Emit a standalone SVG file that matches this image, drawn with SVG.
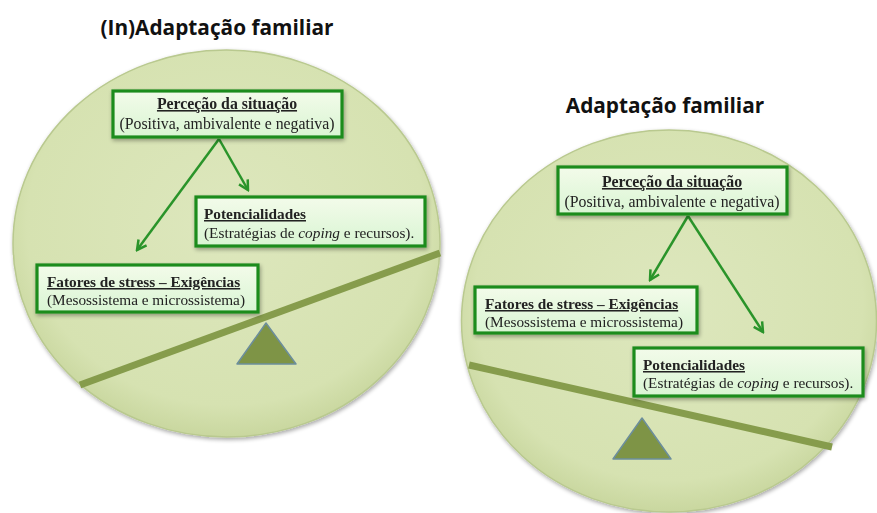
<svg xmlns="http://www.w3.org/2000/svg" width="877" height="513" viewBox="0 0 877 513">
<defs>
<radialGradient id="disc" cx="50%" cy="45%" r="55%">
<stop offset="0" stop-color="#dde7bd"/>
<stop offset="0.85" stop-color="#d6e2b1"/>
<stop offset="1" stop-color="#c9d79f"/>
</radialGradient>
<linearGradient id="boxg" x1="0" y1="0" x2="0" y2="1">
<stop offset="0" stop-color="#f3fbea"/>
<stop offset="1" stop-color="#d9f5d3"/>
</linearGradient>
<filter id="sh" x="-10%" y="-10%" width="120%" height="130%">
<feGaussianBlur in="SourceAlpha" stdDeviation="2"/>
<feOffset dx="1" dy="2" result="b"/>
<feComponentTransfer><feFuncA type="linear" slope="0.35"/></feComponentTransfer>
<feMerge><feMergeNode/><feMergeNode in="SourceGraphic"/></feMerge>
</filter>
<marker id="ah" viewBox="0 0 10 10" refX="8.5" refY="5" markerWidth="5" markerHeight="5" orient="auto" markerUnits="strokeWidth">
<path d="M1,1 L8.5,5 L1,9" fill="none" stroke="#2a942a" stroke-width="2" stroke-linejoin="miter"/>
</marker>
</defs>
<style>
.title{font-family:"Open Sans","Liberation Sans",sans-serif;font-weight:bold;font-size:20.8px;fill:#111}
.disc{fill:url(#disc);stroke:#b9c98f;stroke-width:1.5}
.box{fill:url(#boxg);stroke:#1f8c1f;stroke-width:3.2}
.t{font-family:"Liberation Serif","Times New Roman",serif;font-size:15.3px;fill:#222}
.p{font-size:15.8px}
.h{font-weight:bold;text-decoration:underline}
.beam{stroke:#869c4c;stroke-width:7;stroke-linecap:butt}
.fulcrum{fill:#7e9446;stroke:#6c8e9c;stroke-width:1.5;stroke-linejoin:round}
.arrow{stroke:#2a942a;stroke-width:2.5;fill:none}
</style>
<rect width="877" height="513" fill="#ffffff"/>

<text class="title" x="217" y="35" text-anchor="middle">(In)Adaptação familiar</text>
<text class="title" x="665" y="113" text-anchor="middle">Adaptação familiar</text>

<g id="disc-left" filter="url(#sh)">
<ellipse class="disc" cx="226.5" cy="243.5" rx="213.5" ry="193.5"/>
</g>
<g id="disc-right" filter="url(#sh)">
<ellipse class="disc" cx="669" cy="321" rx="207.5" ry="191"/>
</g>

<g id="balance-left">
<line class="beam" x1="80" y1="385" x2="440" y2="253"/>
<polygon class="fulcrum" points="266,323 237,364 296,364"/>
</g>
<g id="balance-right">
<line class="beam" x1="469" y1="365" x2="832" y2="447"/>
<polygon class="fulcrum" points="642,418 613,459 671,459"/>
</g>

<g id="connectors">
<line class="arrow" x1="219" y1="139" x2="137" y2="250" marker-end="url(#ah)"/>
<line class="arrow" x1="219" y1="139" x2="248" y2="190" marker-end="url(#ah)"/>
<line class="arrow" x1="688" y1="216" x2="650" y2="280" marker-end="url(#ah)"/>
<line class="arrow" x1="688" y1="216" x2="763" y2="332" marker-end="url(#ah)"/>
</g>

<g id="l-percecao" filter="url(#sh)">
<rect class="box" x="113" y="91" width="229" height="46"/>
<text class="t p h" x="227" y="109" text-anchor="middle">Perceção da situação</text>
<text class="t p" x="227" y="129" text-anchor="middle">(Positiva, ambivalente e negativa)</text>
</g>
<g id="l-potencialidades" filter="url(#sh)">
<rect class="box" x="196" y="197" width="229" height="49"/>
<text class="t h" x="204" y="219">Potencialidades</text>
<text class="t" x="204" y="238">(Estratégias de <tspan font-style="italic">coping</tspan> e recursos).</text>
</g>
<g id="l-fatores" filter="url(#sh)">
<rect class="box" x="37" y="265" width="221" height="47"/>
<text class="t h" x="47" y="287">Fatores de stress – Exigências</text>
<text class="t" x="47" y="305">(Mesossistema e microssistema)</text>
</g>

<g id="r-percecao" filter="url(#sh)">
<rect class="box" x="558" y="167" width="229" height="47"/>
<text class="t p h" x="672" y="187" text-anchor="middle">Perceção da situação</text>
<text class="t p" x="672" y="207" text-anchor="middle">(Positiva, ambivalente e negativa)</text>
</g>
<g id="r-fatores" filter="url(#sh)">
<rect class="box" x="475" y="287" width="222" height="46"/>
<text class="t h" x="485" y="309">Fatores de stress – Exigências</text>
<text class="t" x="485" y="327">(Mesossistema e microssistema)</text>
</g>
<g id="r-potencialidades" filter="url(#sh)">
<rect class="box" x="634" y="348" width="229" height="48"/>
<text class="t h" x="643" y="370">Potencialidades</text>
<text class="t" x="643" y="388">(Estratégias de <tspan font-style="italic">coping</tspan> e recursos).</text>
</g>
</svg>
